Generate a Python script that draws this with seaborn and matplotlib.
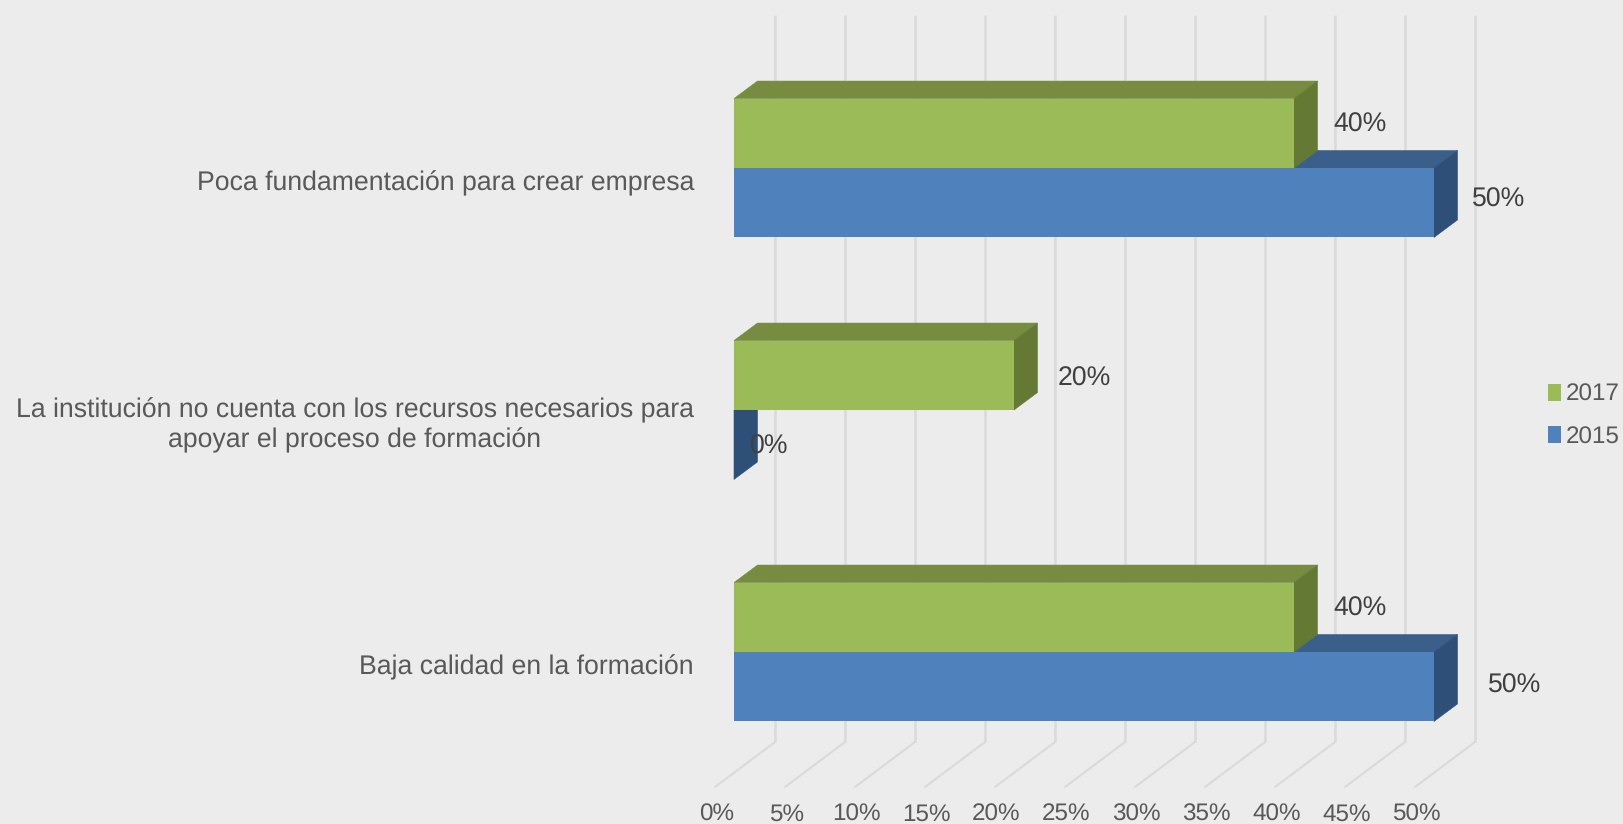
import matplotlib
matplotlib.use("Agg")
import matplotlib.pyplot as plt
import pandas as pd
import seaborn as sns
from matplotlib.patches import Polygon
from matplotlib.transforms import Affine2D, IdentityTransform, blended_transform_factory

categories = [
    "Poca fundamentación para crear empresa",
    "La institución no cuenta con los recursos necesarios para\napoyar el proceso de formación",
    "Baja calidad en la formación",
]
years = ["2017", "2015"]
values_2017 = [40, 20, 40]
values_2015 = [50, 0, 50]
x_ticks = [0, 5, 10, 15, 20, 25, 30, 35, 40, 45, 50]

colors = {"2017": "#9BBB59", "2015": "#4F81BD"}
top_colors = {"2017": "#778B41", "2015": "#3A5F8B"}
side_colors = {"2017": "#647A34", "2015": "#2E4F78"}
# label offsets from the bar end, in pixels (the source chart places them by hand)
label_shift = {
    "2017": [(66, 9), (70, -3), (66, 9)],
    "2015": [(65, 3), (35, -2), (81, 1)],
}
category_shift = [-12.5, -10.5, -12]

DEPTH_X, DEPTH_Y = 23.5, 17.5
BG = "#ECECEC"

sns.set_theme(style="white")
plt.rcParams["font.family"] = ["Liberation Sans", "DejaVu Sans"]
plt.rcParams["text.hinting"] = "no_hinting"

W, H = 1623, 824
fig = plt.figure(figsize=(W / 100, H / 100), dpi=100, facecolor=BG)
ax = fig.add_axes([0, 0, 1, 1], facecolor=BG)

df = pd.DataFrame({
    "category": categories * 2,
    "year": ["2017"] * 3 + ["2015"] * 3,
    "value": values_2017 + values_2015,
})
sns.barplot(data=df, y="category", x="value", hue="year", hue_order=years,
            palette=colors, saturation=1, width=0.574, gap=0, linewidth=0,
            orient="h", ax=ax)

# 14 px per percent, bars start at px 734; categories 242 px apart, first at px 168
ax.set_xlim(-734 / 14, (W - 734) / 14)
ax.set_ylim((H - 168) / 242, -168 / 242)
sns.despine(ax=ax, left=True, bottom=True)
ax.set_xlabel("")
ax.set_ylabel("")

# back wall and floor lines of the 3D box
wall = blended_transform_factory(ax.transData + Affine2D().translate(41, 0), ax.transAxes)
floor_top, wall_top = 1 - 742 / H, 1 - 14.5 / H
for v in x_ticks:
    ax.plot([v, v], [wall_top, floor_top], transform=wall, color="#DADADA", lw=1.8,
            zorder=1, solid_capstyle="butt")
    x_back = ax.transData.transform((v, 0))[0] + 41
    ax.plot([x_back, x_back - 60], [H - 742, H - 787], transform=IdentityTransform(),
            color="#DADADA", lw=1.5, zorder=1)

# fake depth on each bar, taken from the drawn rectangles
fig.canvas.draw()
for container, year, z in zip(ax.containers, years, [4, 3]):
    for bar, value, shift in zip(container, df[df.year == year].value, label_shift[year]):
        bar.set_zorder(z + 0.5)
        (x0, y0), (x1, y1) = ax.transData.transform(
            [(bar.get_x(), bar.get_y() + bar.get_height()), (bar.get_x() + bar.get_width(), bar.get_y())])
        if x1 > x0:
            top = [(x0, y1), (x1, y1), (x1 + DEPTH_X, y1 + DEPTH_Y), (x0 + DEPTH_X, y1 + DEPTH_Y)]
            ax.add_patch(Polygon(top, closed=True, fc=top_colors[year], ec=top_colors[year], lw=0.4,
                                 transform=IdentityTransform(), zorder=z))
        side = [(x1, y0), (x1, y1), (x1 + DEPTH_X, y1 + DEPTH_Y), (x1 + DEPTH_X, y0 + DEPTH_Y)]
        ax.add_patch(Polygon(side, closed=True, fc=side_colors[year], ec=side_colors[year], lw=0.4,
                             transform=IdentityTransform(), zorder=z))
        ax.annotate(f"{value}%", xy=(value, bar.get_y() + bar.get_height() / 2),
                    xytext=(shift[0] * 0.72, shift[1] * 0.72), textcoords="offset points",
                    ha="center", va="center", fontsize=19.2, color="#404040", zorder=6)

# category labels sit a little below the bar groups, ending at px 694
ax.tick_params(axis="y", length=0, pad=0, labelsize=19.2, labelcolor="#595959")
for label, dy in zip(ax.get_yticklabels(), category_shift):
    label.set_multialignment("center")
    label.set_transform(label.get_transform() + Affine2D().translate(694, dy))

ax.set_xticks(x_ticks)
ax.set_xticklabels([f"{v}%" for v in x_ticks])
ax.tick_params(axis="x", length=0, pad=-2.2, labelsize=17.5, labelcolor="#595959")
for label in ax.get_xticklabels():
    label.set_verticalalignment("baseline")
    label.set_transform(label.get_transform() + Affine2D().translate(-17.5, 0))

sns.move_legend(ax, "center left", bbox_to_anchor=(1548 / W, 1 - 416 / H), title=None,
                frameon=False, fontsize=17.5, handlelength=0.55, handleheight=0.7,
                handletextpad=0.2, labelspacing=0.83, labelcolor="#595959",
                borderpad=0, borderaxespad=0)

fig.savefig("out.png", dpi=100, facecolor=BG)
